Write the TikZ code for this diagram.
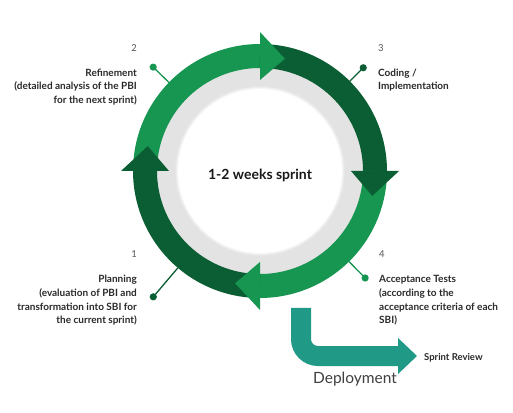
\documentclass[tikz,border=0pt]{standalone}
\usepackage{fontspec}
\setmainfont{Lato}
\definecolor{gmid}{HTML}{169650}
\definecolor{gdark}{HTML}{0B5E33}
\definecolor{dteal}{HTML}{209A86}
\definecolor{ringgray}{HTML}{E3E3E3}
\definecolor{txt}{HTML}{2A2A2A}
\definecolor{numc}{HTML}{555555}
\begin{document}
\begin{tikzpicture}[x=1pt,y=1pt,
  ringseg/.style={line width=24pt},
  lbl/.style={inner sep=0pt, font=\fontsize{10}{13}\selectfont\bfseries, text=txt},
  numlbl/.style={inner sep=0pt, font=\fontsize{9.5}{13}\selectfont, text=numc},
  calloutmid/.style={draw=gmid, line width=1.3pt},
  calloutdark/.style={draw=gdark, line width=1.3pt}]
\useasboundingbox (0,0) rectangle (513,412);
\fill[white] (0,0) rectangle (513,412);
\coordinate (C) at (260,241);
% grey ring with soft inner edge
\fill[ringgray] (C) circle[radius=104];
\fill[ringgray!85!white] (C) circle[radius=85];
\fill[ringgray!60!white] (C) circle[radius=84];
\fill[ringgray!35!white] (C) circle[radius=83];
\fill[white] (C) circle[radius=82];
% ring bodies
\draw[ringseg, gmid] ([shift={(180:115)}]C) arc[start angle=180, end angle=88, radius=115];
\draw[ringseg, gdark] ([shift={(90:115)}]C) arc[start angle=90, end angle=-2, radius=115];
\draw[ringseg, gmid] ([shift={(0:115)}]C) arc[start angle=0, end angle=-92, radius=115];
\draw[ringseg, gdark] ([shift={(-90:115)}]C) arc[start angle=-90, end angle=-182, radius=115];
% arrow heads
\fill[gmid] ([shift={(90:91)}]C) -- ([shift={(90:139)}]C) -- ([shift={(77.5:115)}]C) -- cycle;
\fill[gdark] ([shift={(0:91)}]C) -- ([shift={(0:139)}]C) -- ([shift={(-12.5:115)}]C) -- cycle;
\fill[gmid] ([shift={(-90:91)}]C) -- ([shift={(-90:139)}]C) -- ([shift={(-102.5:115)}]C) -- cycle;
\fill[gdark] ([shift={(180:91)}]C) -- ([shift={(180:139)}]C) -- ([shift={(167.5:115)}]C) -- cycle;
% centre text
\node[inner sep=0pt, font=\fontsize{14}{16}\selectfont\bfseries, text=black!90] (ctr) at (260,237) {1-2 weeks sprint};
% callouts
\path (C) ++(135.8:127) coordinate (r2) (C) ++(135.8:149) coordinate (d2);
\path (C) ++(45:127) coordinate (r3) (C) ++(45:146) coordinate (d3);
\path (C) ++(229.7:127) coordinate (r1) (C) ++(229.7:165) coordinate (d1);
\path (C) ++(-45.5:127) coordinate (r4) (C) ++(-45.5:150) coordinate (d4);
\draw[calloutmid] (r2) -- (d2); \fill[gmid] (d2) circle[radius=3.6];
\draw[calloutdark] (r3) -- (d3); \fill[gdark] (d3) circle[radius=3.6];
\draw[calloutdark] (r1) -- (d1); \fill[gdark] (d1) circle[radius=3.6];
\draw[calloutmid] (r4) -- (d4); \fill[gmid] (d4) circle[radius=3.6];
% labels 2
\node[numlbl, anchor=base east] (n2) at (137,360) {2};
\node[lbl, anchor=base east] (t2a) at (137,335.5) {Refinement};
\node[lbl, anchor=base east] (t2b) at (137,322) {(detailed analysis of the PBI};
\node[lbl, anchor=base east] (t2c) at (137,308.5) {for the next sprint)};
% labels 3
\node[numlbl, anchor=base west] (n3) at (378,360) {3};
\node[lbl, anchor=base west] (t3a) at (378,335.5) {Coding /};
\node[lbl, anchor=base west] (t3b) at (378,322.5) {Implementation};
% labels 1
\node[numlbl, anchor=base east] (n1) at (137,154) {1};
\node[lbl, anchor=base east] (t1a) at (137,129) {Planning};
\node[lbl, anchor=base east] (t1b) at (137,115.5) {(evaluation of PBI and};
\node[lbl, anchor=base east] (t1c) at (137,102) {transformation into SBI for};
\node[lbl, anchor=base east] (t1d) at (137,88.5) {the current sprint)};
% labels 4
\node[numlbl, anchor=base west] (n4) at (379,154) {4};
\node[lbl, anchor=base west] (t4a) at (379,129) {Acceptance Tests};
\node[lbl, anchor=base west] (t4b) at (379,115.5) {(according to the};
\node[lbl, anchor=base west] (t4c) at (379,102) {acceptance criteria of each};
\node[lbl, anchor=base west] (t4d) at (379,88.5) {SBI)};
% deployment arrow
\coordinate (dA) at (301,104);
\coordinate (dB) at (301,56);
\coordinate (dC) at (399,56);
\draw[dteal, line width=20pt, rounded corners=17pt] (dA) -- (dB) -- (dC);
\fill[dteal] (398,74) -- (417,56) -- (398,38) -- cycle;
\node[lbl, anchor=base west, font=\fontsize{9.5}{11}\selectfont\bfseries] (sr) at (424,51.5) {Sprint Review};
\node[inner sep=0pt, anchor=base, font=\fontsize{15.5}{18}\selectfont, text=black!75] (dep) at (355,29) {Deployment};
\end{tikzpicture}
\end{document}
